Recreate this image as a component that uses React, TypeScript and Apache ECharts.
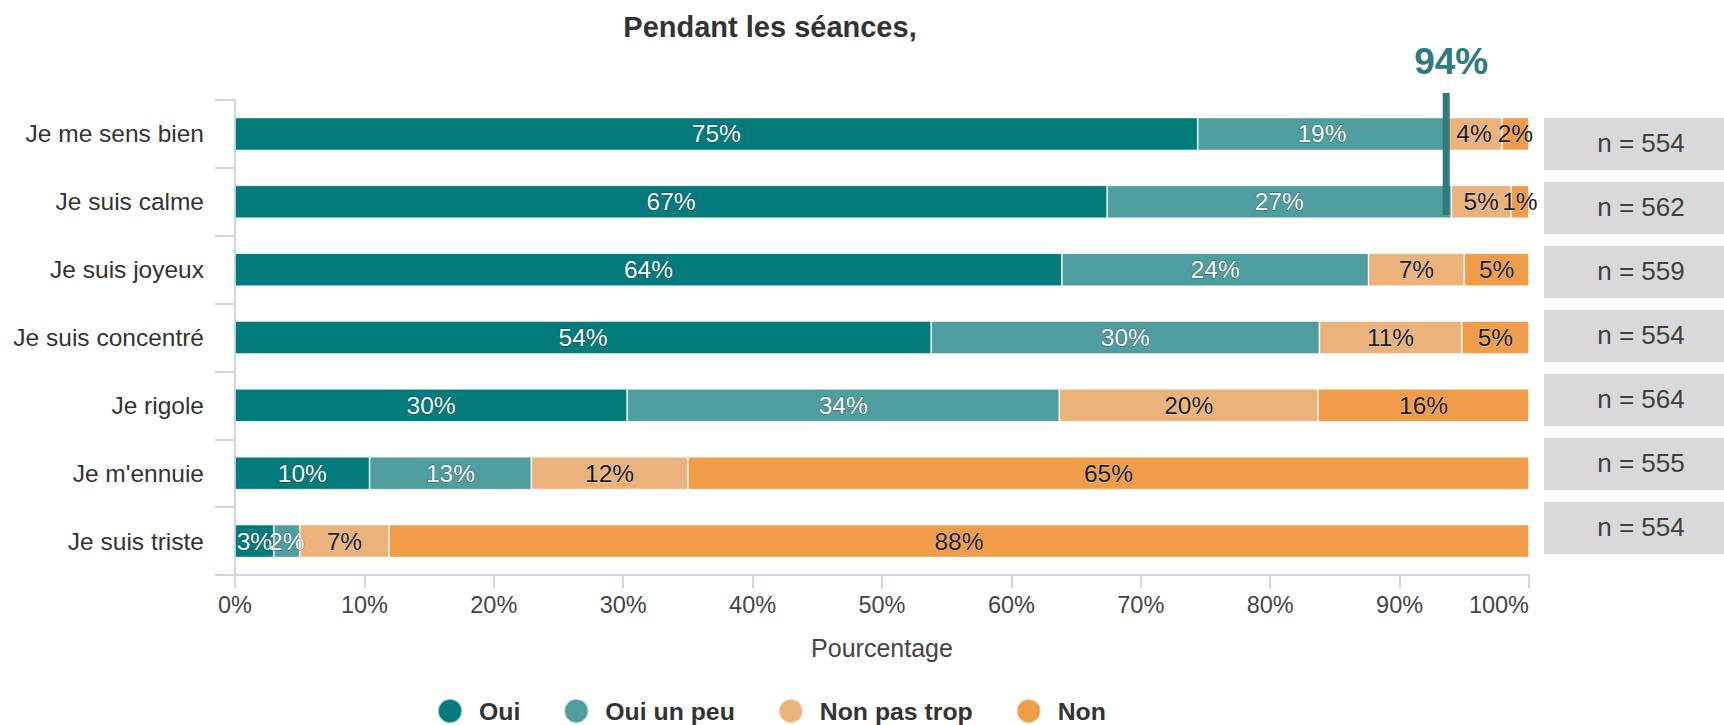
import React, { useEffect, useRef } from "react";
import * as echarts from "echarts";

const categories = [
  "Je me sens bien",
  "Je suis calme",
  "Je suis joyeux",
  "Je suis concentré",
  "Je rigole",
  "Je m'ennuie",
  "Je suis triste",
];
const seriesNames = ["Oui", "Oui un peu", "Non pas trop", "Non"];
const oui = [74.4, 67.4, 63.9, 53.8, 30.3, 10.4, 3.0];
const ouiUnPeu = [19.2, 26.6, 23.7, 30.0, 33.4, 12.5, 2.0];
const nonPasTrop = [4.3, 4.6, 7.4, 11.0, 20.0, 12.1, 6.9];
const non = [2.1, 1.4, 5.0, 5.2, 16.3, 65.0, 88.1];
const nValues = [554, 562, 559, 554, 564, 555, 554];
const xTicks = [0, 10, 20, 30, 40, 50, 60, 70, 80, 90, 100];

const colors = ["#017b7c", "#4e9d9f", "#ecb27c", "#f19c49"];
const FONT = "'Liberation Sans', Arial, sans-serif";

// largest-remainder rounding so each row's labels add to 100
function roundRow(vals: number[]): number[] {
  const floors = vals.map((v) => Math.floor(v + 1e-9));
  let left = 100 - floors.reduce((a, b) => a + b, 0);
  const order = vals
    .map((v, i) => ({ i, r: v - floors[i] }))
    .sort((a, b) => b.r - a.r);
  const out = floors.slice();
  for (let k = 0; k < order.length && left > 0; k++, left--) out[order[k].i] += 1;
  return out;
}

export default function App() {
  const ref = useRef<HTMLDivElement>(null);
  useEffect(() => {
    if (!ref.current) return;
    const chart = echarts.init(ref.current, null, { renderer: "svg" });
    const all = [oui, ouiUnPeu, nonPasTrop, non];
    const rounded = categories.map((_, r) => roundRow(all.map((s) => s[r])));

    const barSeries = all.map((data, si) => ({
      name: seriesNames[si],
      type: "bar",
      stack: "total",
      xAxisIndex: 0,
      yAxisIndex: 0,
      barWidth: 33,
      data,
      itemStyle: {
        color: colors[si],
        borderColor: "rgba(255,255,255,0.45)",
        borderWidth: 1,
      },
      label: {
        show: true,
        position: "inside",
        fontFamily: FONT,
        fontSize: 24.5,
        color: si < 2 ? "#ffffff" : "#1a1a1a",
        textBorderColor: si < 2 ? "rgba(0,0,0,0.45)" : "rgba(255,255,255,0.4)",
        textBorderWidth: 1,
        formatter: (p: any) => rounded[p.dataIndex][si] + "%",
      },
    }));

    chart.setOption({
      animation: false,
      grid: [
        { left: 235, right: 195, top: 100, bottom: 150 },
        { left: 1544, right: 0, top: 112, bottom: 165 },
      ],
      legend: {
        data: seriesNames,
        left: 437,
        top: 698,
        padding: 0,
        icon: "circle",
        itemWidth: 24,
        itemHeight: 24,
        itemGap: 43,
        textStyle: {
          fontFamily: FONT,
          fontSize: 24.8,
          fontWeight: "bold",
          color: "#333333",
          padding: [0, 0, 0, 12],
        },
      },
      xAxis: [
        {
          type: "value",
          gridIndex: 0,
          min: xTicks[0],
          max: xTicks[xTicks.length - 1],
          interval: xTicks[1] - xTicks[0],
          name: "Pourcentage",
          nameLocation: "middle",
          nameGap: 60,
          nameTextStyle: { fontFamily: FONT, fontSize: 25, color: "#444444" },
          axisLine: { show: true, lineStyle: { color: "#ccd6eb", width: 2 } },
          axisTick: { show: true, length: 13, lineStyle: { color: "#ccd6eb", width: 2 } },
          splitLine: { show: false },
          axisLabel: {
            formatter: "{value}%",
            fontFamily: FONT,
            fontSize: 23.5,
            color: "#444444",
            margin: 18,
            alignMaxLabel: "right",
          },
        },
        { type: "value", gridIndex: 1, min: 0, max: 1, show: false },
      ],
      yAxis: [
        {
          type: "category",
          gridIndex: 0,
          data: categories,
          inverse: true,
          axisLine: { show: true, lineStyle: { color: "#ccd6eb", width: 2 } },
          axisTick: { show: true, length: 20, lineStyle: { color: "#ccd6eb", width: 2 } },
          axisLabel: {
            fontFamily: FONT,
            fontSize: 24.5,
            color: "#333333",
            margin: 31,
          },
        },
        {
          type: "category",
          gridIndex: 1,
          data: categories,
          inverse: true,
          show: false,
        },
      ],
      series: [
        ...barSeries,
        {
          name: "n",
          type: "bar",
          xAxisIndex: 1,
          yAxisIndex: 1,
          barWidth: 52,
          data: nValues.map(() => 1),
          itemStyle: { color: "#d9d9d9" },
          silent: true,
          label: {
            show: true,
            position: "inside",
            offset: [7, -1],
            fontFamily: FONT,
            fontSize: 26,
            color: "#404040",
            formatter: (p: any) => "n = " + nValues[p.dataIndex],
          },
        },
      ],
    });

    const lineValue = oui[0] + ouiUnPeu[0];
    const p0 = chart.convertToPixel({ gridIndex: 0 }, [lineValue, 0]) as number[];
    const p1 = chart.convertToPixel({ gridIndex: 0 }, [lineValue, 1]) as number[];
    const lx = p0[0];
    const topY = p0[1] - 41;
    const botY = p1[1] + 13;

    chart.setOption({
      graphic: [
        {
          type: "text",
          id: "title",
          x: 770,
          y: 27,
          style: {
            text: "Pendant les séances,",
            font: `bold 29px ${FONT}`,
            fill: "#333333",
            align: "center",
            verticalAlign: "middle",
            textAlign: "center",
            textVerticalAlign: "middle",
          },
        },
        {
          type: "line",
          id: "marker",
          shape: { x1: lx, y1: topY, x2: lx, y2: botY },
          style: { stroke: "#2e7a7d", lineWidth: 7 },
          z: 100,
        },
        {
          type: "text",
          id: "markerText",
          x: lx + 5,
          y: 61,
          style: {
            text: Math.round(lineValue) + "%",
            font: `bold 37px ${FONT}`,
            fill: "#2e7a7d",
            align: "center",
            verticalAlign: "middle",
            textAlign: "center",
            textVerticalAlign: "middle",
          },
        },
      ],
    });

    return () => chart.dispose();
  }, []);

  return (
    <div
      ref={ref}
      style={{ position: "absolute", left: 0, top: 0, width: 1724, height: 725 }}
    />
  );
}
